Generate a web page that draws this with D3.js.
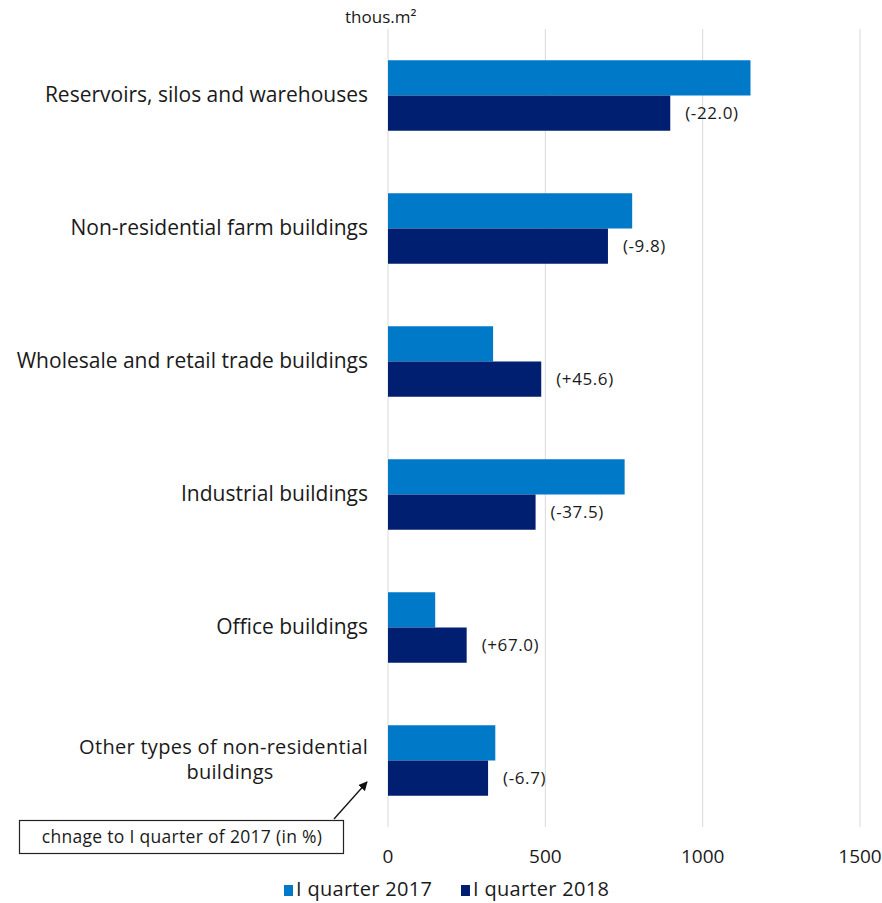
<!DOCTYPE html>
<html>
<head>
<meta charset="utf-8">
<script src="https://cdn.jsdelivr.net/npm/d3@7"></script>
<style>
  body { margin: 0; background: #fff; }
  text { font-family: "Open Sans", "Noto Sans", sans-serif; fill: #1a1a1a; }
</style>
</head>
<body>
<svg id="chart" width="882" height="903"></svg>
<script>
var width = 882, height = 903;

// data
var categories = ["Reservoirs, silos and warehouses", "Non-residential farm buildings",
  "Wholesale and retail trade buildings", "Industrial buildings", "Office buildings",
  "Other types of non-residential buildings"];
var q2017 = [1152, 776, 334, 752, 150, 341];
var q2018 = [897, 699, 487, 469, 250, 318];
var changes = ["(-22.0)", "(-9.8)", "(+45.6)", "(-37.5)", "(+67.0)", "(-6.7)"];
var xTicks = [0, 500, 1000, 1500];
var seriesNames = ["I quarter 2017", "I quarter 2018"];
var colors = ["#0079c9", "#001f70"];

var svg = d3.select("#chart");
var plotL = 388, plotR = 860, plotT = 29, plotB = 827;

var x = d3.scaleLinear().domain([0, 1500]).range([plotL, plotR]);
var y = d3.scaleBand().domain(categories).range([plotT, plotB]).paddingInner(0.47).paddingOuter(0.235);
var sub = d3.scaleBand().domain([0, 1]).range([0, y.bandwidth()]);

// gridlines
svg.append("g").selectAll("line").data(xTicks).join("line")
  .attr("x1", function(d) { return x(d); }).attr("x2", function(d) { return x(d); })
  .attr("y1", plotT).attr("y2", plotB)
  .attr("stroke", "#d9d9d9").attr("stroke-width", 1);

// tick labels
svg.append("g").selectAll("text").data(xTicks).join("text")
  .attr("x", function(d) { return x(d); }).attr("y", 863)
  .attr("text-anchor", "middle").attr("font-size", 19)
  .text(function(d) { return d; });

// bars
var groups = svg.append("g").selectAll("g").data(categories).join("g")
  .attr("transform", function(d) { return "translate(0," + y(d) + ")"; });

groups.append("rect")
  .attr("x", x(0)).attr("y", sub(0))
  .attr("width", function(d, i) { return x(q2017[i]) - x(0); })
  .attr("height", sub.bandwidth())
  .attr("fill", colors[0]);

groups.append("rect")
  .attr("x", x(0)).attr("y", sub(1))
  .attr("width", function(d, i) { return x(q2018[i]) - x(0); })
  .attr("height", sub.bandwidth())
  .attr("fill", colors[1]);

groups.append("text")
  .attr("x", function(d, i) { return x(q2018[i]) + 15; })
  .attr("y", sub(1) + sub.bandwidth() / 2 + 6)
  .attr("font-size", 17).attr("letter-spacing", 0.6)
  .text(function(d, i) { return changes[i]; });

// category labels
groups.each(function(d) {
  if (d === "Other types of non-residential buildings") {
    d3.select(this).append("text").attr("font-size", 20)
      .attr("text-anchor", "end").attr("x", 368).attr("y", y.bandwidth() / 2 - 6)
      .attr("letter-spacing", 0.3).text("Other types of non-residential");
    d3.select(this).append("text").attr("font-size", 20)
      .attr("text-anchor", "middle").attr("x", 230).attr("y", y.bandwidth() / 2 + 19)
      .attr("letter-spacing", 0.3).text("buildings");
  } else {
    d3.select(this).append("text").attr("font-size", 21)
      .attr("text-anchor", "end").attr("x", 368).attr("y", y.bandwidth() / 2 + 7).text(d);
  }
});

// unit
svg.append("text").attr("x", 345).attr("y", 23).attr("font-size", 17).text("thous.m²");

// annotation
svg.append("defs").append("marker")
  .attr("id", "arr").attr("viewBox", "0 0 10 10").attr("refX", 9).attr("refY", 5)
  .attr("markerWidth", 7).attr("markerHeight", 7).attr("orient", "auto")
  .append("path").attr("d", "M0,0L10,5L0,10z").attr("fill", "#111");

svg.append("line").attr("x1", 334).attr("y1", 819).attr("x2", 367).attr("y2", 782)
  .attr("stroke", "#111").attr("stroke-width", 1.3).attr("marker-end", "url(#arr)");

svg.append("rect").attr("x", 19.5).attr("y", 820.5).attr("width", 324).attr("height", 33)
  .attr("fill", "#fff").attr("stroke", "#222").attr("stroke-width", 1.2);
svg.append("text").attr("x", 182).attr("y", 843).attr("text-anchor", "middle")
  .attr("font-size", 17.5).attr("letter-spacing", 0.3).text("chnage to I quarter of 2017 (in %)");

// legend
var lx = [284, 461];
var legend = svg.append("g").selectAll("g").data(seriesNames).join("g")
  .attr("transform", function(d, i) { return "translate(" + lx[i] + ",0)"; });
legend.append("rect").attr("x", 0).attr("y", 885).attr("width", 9).attr("height", 11)
  .attr("fill", function(d, i) { return colors[i]; });
legend.append("text").attr("x", 12).attr("y", 896).attr("font-size", 20)
  .attr("letter-spacing", 0.3)
  .text(function(d) { return d; });
</script>
</body>
</html>
